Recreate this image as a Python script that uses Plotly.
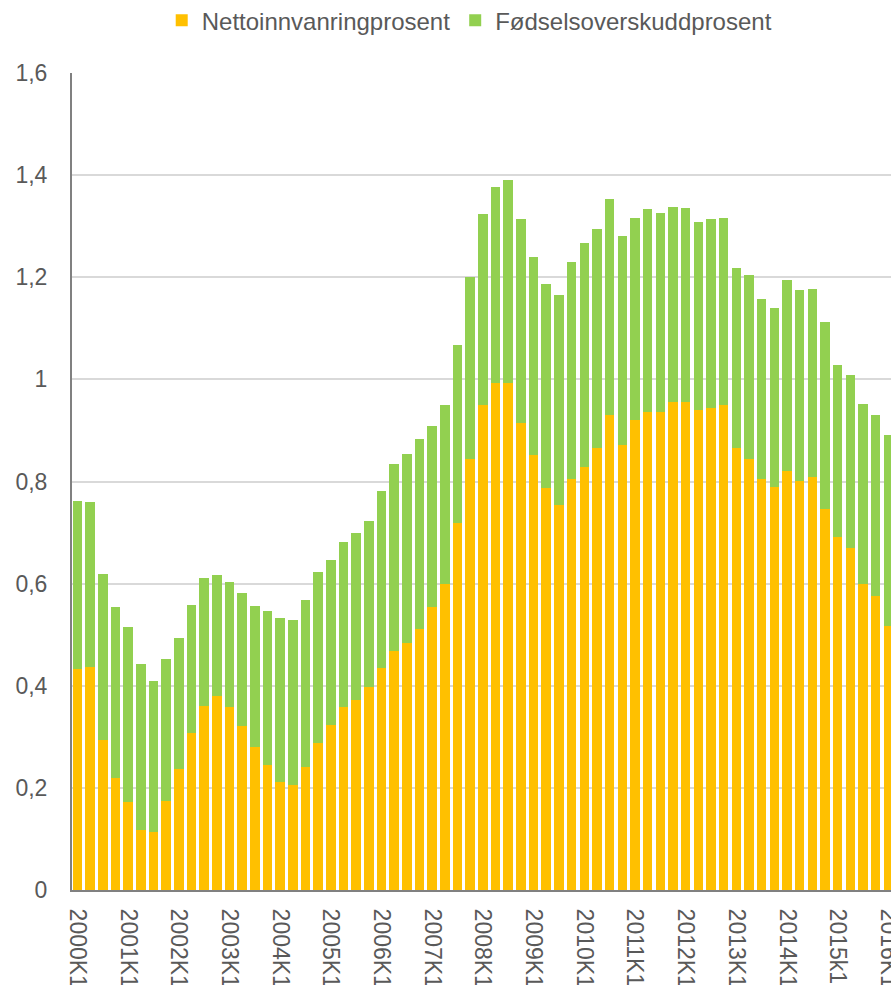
import plotly.graph_objects as go

years = list(range(2000, 2017))
quarters = []
for y in years:
    for q in range(1, 5):
        quarters.append(f"{y}K{q}")
quarters = quarters[:65]  # 2000K1 .. 2016K1

netto = [0.433, 0.436, 0.294, 0.219, 0.173, 0.118, 0.114, 0.174, 0.237, 0.308,
         0.360, 0.379, 0.358, 0.322, 0.281, 0.245, 0.212, 0.206, 0.241, 0.288,
         0.323, 0.358, 0.373, 0.398, 0.435, 0.468, 0.484, 0.512, 0.555, 0.600,
         0.718, 0.845, 0.949, 0.992, 0.992, 0.914, 0.852, 0.787, 0.754, 0.804,
         0.828, 0.865, 0.931, 0.871, 0.920, 0.937, 0.937, 0.955, 0.956, 0.941,
         0.943, 0.949, 0.866, 0.844, 0.805, 0.790, 0.821, 0.801, 0.808, 0.746,
         0.692, 0.670, 0.599, 0.575, 0.518]

total = [0.762, 0.760, 0.618, 0.554, 0.516, 0.442, 0.409, 0.452, 0.494, 0.558,
         0.611, 0.616, 0.603, 0.581, 0.556, 0.546, 0.532, 0.529, 0.568, 0.622,
         0.647, 0.682, 0.699, 0.723, 0.782, 0.834, 0.853, 0.883, 0.909, 0.949,
         1.067, 1.201, 1.324, 1.376, 1.391, 1.314, 1.240, 1.186, 1.165, 1.229,
         1.268, 1.294, 1.353, 1.281, 1.317, 1.333, 1.325, 1.338, 1.336, 1.308,
         1.315, 1.316, 1.218, 1.204, 1.157, 1.140, 1.195, 1.176, 1.177, 1.112,
         1.028, 1.008, 0.951, 0.930, 0.891]

fodsel = [round(t - n, 3) for t, n in zip(total, netto)]

tick_labels = [f"{y}K1" for y in range(2000, 2017)]
tick_text = [("2015k1" if t == "2015K1" else t) for t in tick_labels]

y_ticks = [0, 0.2, 0.4, 0.6, 0.8, 1.0, 1.2, 1.4, 1.6]
y_text = ["0", "0,2", "0,4", "0,6", "0,8", "1", "1,2", "1,4", "1,6"]

FONT = "Liberation Sans, Arial, sans-serif"
TXT = "#595959"

xs = list(range(len(quarters)))
fig = go.Figure()
fig.add_trace(go.Bar(x=xs, y=netto, name="Nettoinnvanringprosent",
                     marker=dict(color="#FFC000", line=dict(width=0))))
fig.add_trace(go.Bar(x=xs, y=fodsel, name="Fødselsoverskuddprosent",
                     marker=dict(color="#92D050", line=dict(width=0))))

tickvals = [quarters.index(t) for t in tick_labels if t in quarters]

fig.update_layout(
    width=891, height=985,
    barmode="stack", bargap=0.25,
    plot_bgcolor="white", paper_bgcolor="white",
    margin=dict(l=72, r=0, t=73, b=95),
    font=dict(family=FONT, size=23, color=TXT),
    legend=dict(orientation="h", x=0.485, xanchor="center",
                yref="container", y=0.979, yanchor="middle",
                font=dict(size=24, color=TXT), itemwidth=30, traceorder="normal"),
    showlegend=True,
)
fig.update_xaxes(
    range=[-0.43, 64.21], automargin=False,
    tickmode="array", tickvals=tickvals, ticktext=tick_text[:len(tickvals)],
    tickangle=90, showgrid=False, showline=True, linecolor="#808080", linewidth=2,
    ticks="", tickfont=dict(size=23, color=TXT), ticklabelstandoff=12,
    ticklabeloverflow="allow",
)
fig.update_yaxes(
    range=[0, 1.6], automargin=False, tickmode="array", tickvals=y_ticks, ticktext=y_text,
    showgrid=True, gridcolor="#d9d9d9", gridwidth=1.5,
    showline=True, linecolor="#808080", linewidth=2, zeroline=False,
    ticks="", tickfont=dict(size=23, color=TXT), ticklabelstandoff=18,
)

fig.write_html("out.html", config={"displayModeBar": False},
               post_script="document.body.style.margin='0';document.body.style.overflow='hidden';")
